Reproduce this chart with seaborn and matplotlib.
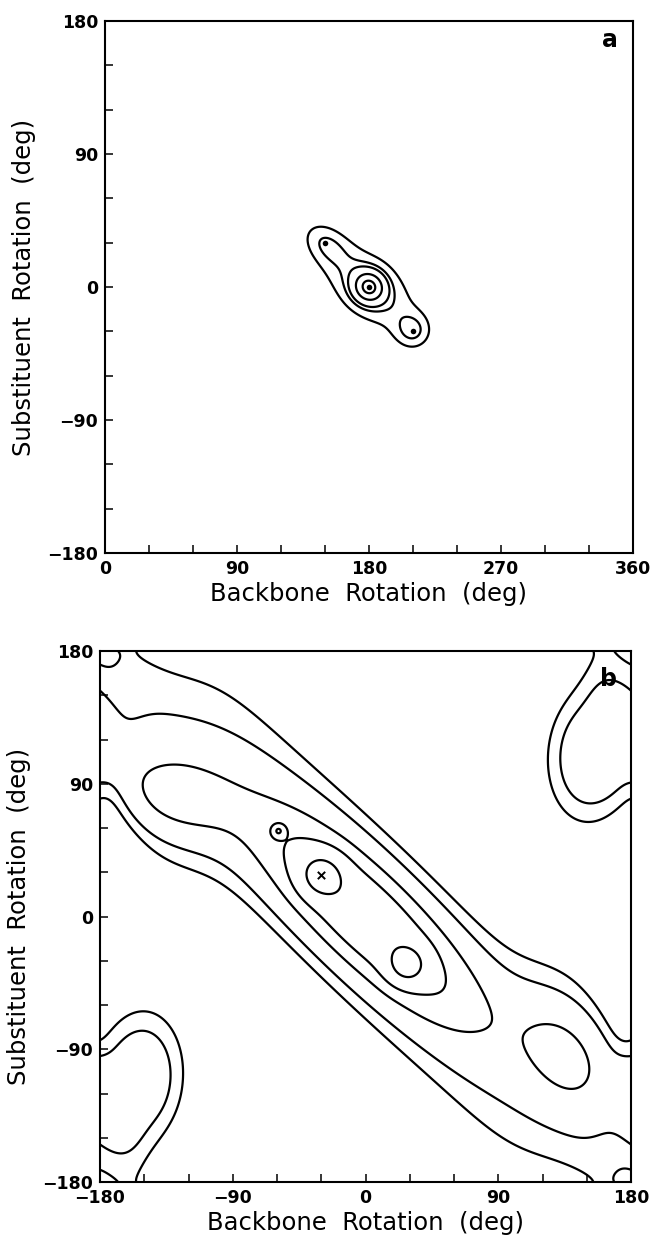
import numpy as np
import matplotlib
matplotlib.use("Agg")
import matplotlib.pyplot as plt
from matplotlib.ticker import MultipleLocator
import seaborn as sns

sns.set_theme(style="ticks", rc={"axes.edgecolor": "black", "xtick.color": "black",
                                 "ytick.color": "black", "text.color": "black",
                                 "axes.labelcolor": "black"})
plt.rcParams["font.family"] = ["DejaVu Sans"]

# ---------------- panel a: conformational energy basins ----------------
# centre (deg), depth, long / short width (deg), tilt of long axis (deg), shape exponent
a_well_x = [180, 180, 150, 210]
a_well_y = [0, 0, 30, -30]
a_well_depth = [0.90, 1.00, 0.55, 0.62]
a_well_len = [28, 8, 13, 9]
a_well_wid = [16, 8, 9, 9]
a_well_tilt = [-40, 0, -40, 0]
a_well_power = [2, 2, 2, 2]
a_levels = [0.47, 0.76, 0.95, 1.37, 1.75]
a_min_x = [150, 180, 210]
a_min_y = [30, 0, -30]

# ---------------- panel b: periodic energy map ----------------
b_valley_depth = 0.28
b_valley_halfwidth = 80
b_bend_x = [-145, 145]
b_bend_shift = [-30, 30]
b_bend_width = 40
b_well_x = [0, 0, -30, 28, -59, -130, 136, 153, -153, 180]
b_well_y = [0, 0, 28, -33, 58, 82, -95, 110, -110, 180]
b_well_depth = [0.55, 0.18, 0.45, 0.45, 0.50, 0.30, 0.27, 0.36, 0.36, -0.11]
b_well_len = [66, 100, 10, 9, 2.8, 30, 30, 44, 44, 24]
b_well_wid = [21, 24, 10, 9, 2.8, 20, 20, 28, 28, 24]
b_well_tilt = [-45, -40, 0, 0, 0, -20, -60, 85, 85, 0]
b_well_power = [2, 2, 2, 2, 2, 2, 2, 4, 4, 2]
b_levels = [0.20, 0.31, 0.52, 0.72, 1.10]
b_min_x = [-30]
b_min_y = [28]


def wrap(d):
    return (d + 180.0) % 360.0 - 180.0


def basin_surface(gx, gy, xs, ys, depth, length, width, tilt, power):
    """Sum of tilted basins, repeated every 360 deg so the map is periodic."""
    X, Y = np.meshgrid(gx, gy)
    F = np.zeros_like(X)
    for cx, cy, A, L, W, th, p in zip(xs, ys, depth, length, width, tilt, power):
        c, s = np.cos(np.deg2rad(th)), np.sin(np.deg2rad(th))
        for ox in (-360, 0, 360):
            for oy in (-360, 0, 360):
                dx = X - cx - ox
                dy = Y - cy - oy
                u = dx * c + dy * s
                v = -dx * s + dy * c
                r2 = (u / L) ** 2 + (v / W) ** 2
                F += A * np.exp(-0.5 * r2 ** (p / 2.0))
    return X, Y, F


def style_axes(ax, xmin, xmax, letter, lx, ly):
    ax.set_xlim(xmin, xmax)
    ax.set_ylim(-180, 180)
    ax.xaxis.set_major_locator(MultipleLocator(90))
    ax.xaxis.set_minor_locator(MultipleLocator(30))
    ax.yaxis.set_major_locator(MultipleLocator(90))
    ax.yaxis.set_minor_locator(MultipleLocator(30))
    ax.tick_params(which="both", direction="in", length=6, width=1.1,
                   top=False, right=False, bottom=True, left=True)
    ax.tick_params(which="major", labelsize=12.5, pad=5)
    for lab in ax.get_xticklabels() + ax.get_yticklabels():
        lab.set_fontweight("bold")
    for sp in ax.spines.values():
        sp.set_visible(True)
        sp.set_linewidth(1.5)
        sp.set_color("black")
    ax.set_xlabel("Backbone  Rotation  (deg)", fontsize=17.5, labelpad=3)
    ax.set_ylabel("Substituent  Rotation  (deg)", fontsize=17.5, labelpad=8)
    ax.text(lx, ly, letter, transform=ax.transAxes, ha="center", va="center",
            fontsize=17, fontweight="bold")


fig = plt.figure(figsize=(6.54, 12.38), dpi=100)
ax_a = fig.add_axes([105 / 654, (1238 - 553) / 1238, 528 / 654, 532 / 1238])
ax_b = fig.add_axes([100 / 654, (1238 - 1182) / 1238, 531 / 654, 531 / 1238])

# panel a
gxa = np.linspace(0, 360, 721)
gya = np.linspace(-180, 180, 721)
Xa, Ya, Fa = basin_surface(gxa, gya, a_well_x, a_well_y, a_well_depth,
                           a_well_len, a_well_wid, a_well_tilt, a_well_power)
ax_a.contour(Xa, Ya, Fa, levels=a_levels, colors="black", linewidths=1.6)
sns.scatterplot(x=a_min_x, y=a_min_y, ax=ax_a, color="black", s=16,
                marker="o", linewidth=0, legend=False)
style_axes(ax_a, 0, 360, "a", 0.956, 0.964)

# panel b: basins plus a winding low-energy valley along the anti-diagonal
gxb = np.linspace(-180, 180, 721)
gyb = np.linspace(-180, 180, 721)
Xb, Yb, Fb = basin_surface(gxb, gyb, b_well_x, b_well_y, b_well_depth,
                           b_well_len, b_well_wid, b_well_tilt, b_well_power)
bend = np.zeros_like(Xb)
for bx, bs in zip(b_bend_x, b_bend_shift):
    bend += bs * np.exp(-(wrap(Xb - bx) / b_bend_width) ** 2)
t = wrap(Xb + Yb - bend)
Fb = Fb + b_valley_depth * np.exp(-(np.abs(t) / b_valley_halfwidth) ** 4)
ax_b.contour(Xb, Yb, Fb, levels=b_levels, colors="black", linewidths=1.6)
sns.scatterplot(x=b_min_x, y=b_min_y, ax=ax_b, color="black", s=28,
                marker="x", linewidth=1.4, legend=False)
style_axes(ax_b, -180, 180, "b", 0.958, 0.947)

fig.savefig("out.png", dpi=100)
